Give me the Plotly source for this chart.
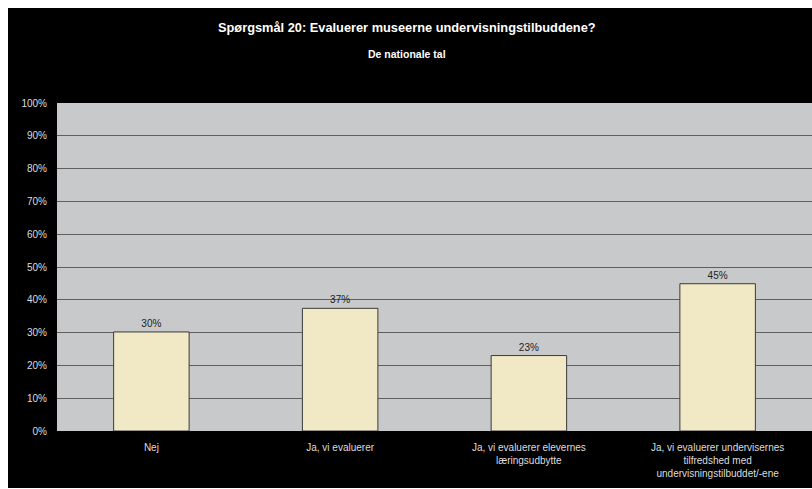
import plotly.graph_objects as go

categories = [
    "Nej",
    "Ja, vi evaluerer",
    "Ja, vi evaluerer elevernes<br>læringsudbytte",
    "Ja, vi evaluerer undervisernes<br>tilfredshed med<br>undervisningstilbuddet/-ene",
]
values = [30.2, 37.4, 23.0, 44.9]
y_ticks = [0, 10, 20, 30, 40, 50, 60, 70, 80, 90, 100]
y_tick_labels = [f"{v}%" for v in y_ticks]

title = "Spørgsmål 20: Evaluerer museerne undervisningstilbuddene?"
subtitle = "De nationale tal"

FONT = "Arial, Liberation Sans, sans-serif"

fig = go.Figure(
    go.Bar(
        x=categories,
        y=values,
        width=0.40,
        marker=dict(color="#F1E8C6", line=dict(color="#3a3a3a", width=1)),
        text=[f"{v:.0f}%" for v in values],
        textposition="outside",
        textfont=dict(family=FONT, size=10, color="#222222"),
        cliponaxis=False,
    )
)

fig.update_layout(
    width=804,
    height=480,
    margin=dict(l=49, r=0, t=95, b=57),
    paper_bgcolor="#000000",
    plot_bgcolor="#C8C9CB",
    showlegend=False,
    font=dict(family=FONT, size=10, color="#DDDDDD"),
    annotations=[
        dict(text="<b>" + title + "</b>", x=0.464, y=1.229, xref="paper", yref="paper",
             showarrow=False, font=dict(size=12.8, color="#FFFFFF"), xanchor="center", yanchor="middle"),
        dict(text="<b>" + subtitle + "</b>", x=0.464, y=1.150, xref="paper", yref="paper",
             showarrow=False, font=dict(size=10.5, color="#FFFFFF"), xanchor="center", yanchor="middle"),
    ],
)

fig.update_xaxes(
    showgrid=False,
    showline=True,
    linecolor="#000000",
    linewidth=1,
    ticks="",
    ticklabelstandoff=7,
    tickfont=dict(size=10, color="#DDDDDD"),
)
fig.update_yaxes(
    range=[0, 100],
    tickvals=y_ticks,
    ticktext=y_tick_labels,
    showgrid=True,
    gridcolor="#5f5f5f",
    gridwidth=1,
    zeroline=False,
    showline=False,
    ticks="",
    ticklabelstandoff=9,
    tickfont=dict(size=10, color="#DDDDDD"),
)

fig.write_html(
    "out.html",
    post_script="document.body.style.margin='8px 0 0 8px';document.body.style.overflow='hidden';",
)
